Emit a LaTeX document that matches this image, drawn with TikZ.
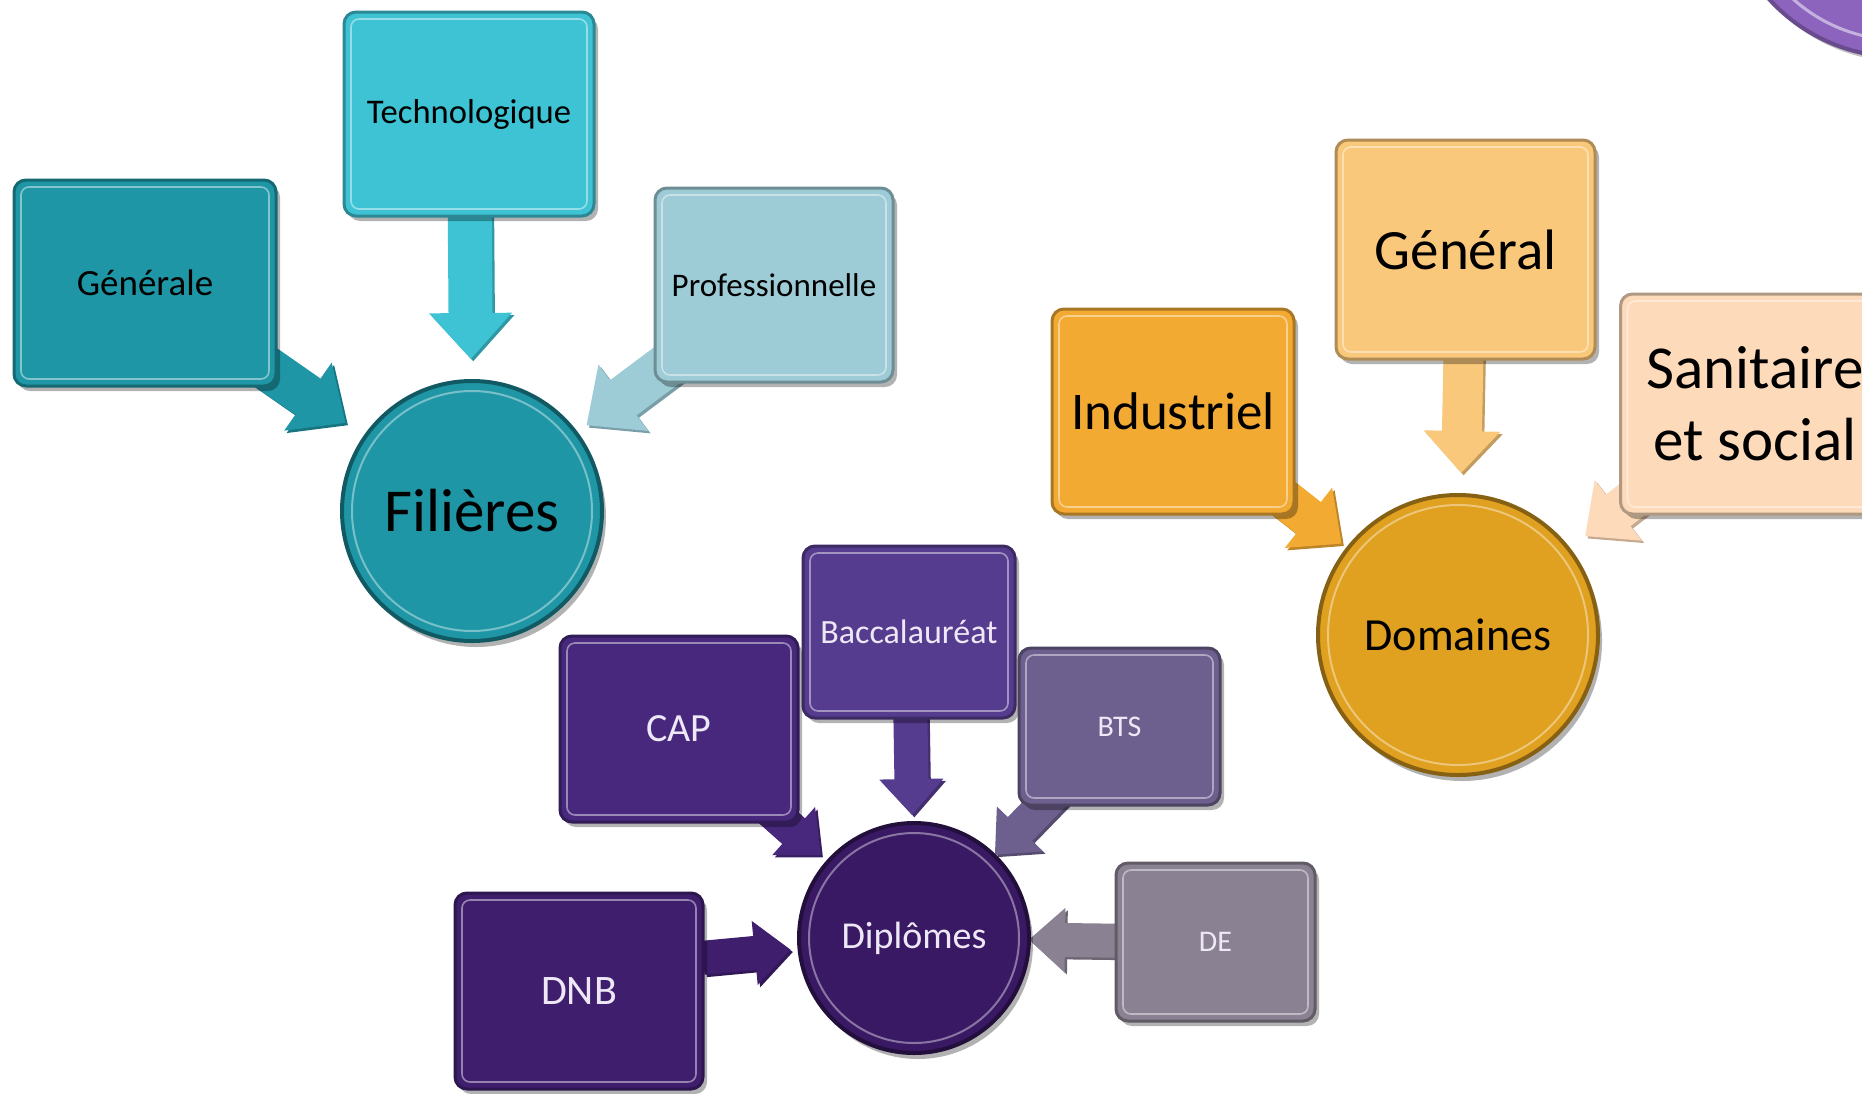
\documentclass[tikz,border=0pt]{standalone}
\usepackage{fontspec}
\setmainfont{Carlito}
\usetikzlibrary{arrows.meta,shadows,calc}
\pgfdeclarelayer{back}
\pgfdeclarelayer{bg}
\pgfsetlayers{back,bg,main}
\definecolor{tealA}{RGB}{30,150,165}
\definecolor{tealB}{RGB}{62,195,212}
\definecolor{tealC}{RGB}{157,203,214}
\definecolor{orA}{RGB}{242,170,50}
\definecolor{orB}{RGB}{250,200,122}
\definecolor{orC}{RGB}{252,218,186}
\definecolor{orD}{RGB}{224,160,32}
\definecolor{puCAP}{RGB}{72,40,125}
\definecolor{puBAC}{RGB}{86,60,142}
\definecolor{puBTS}{RGB}{110,96,142}
\definecolor{puDE}{RGB}{138,130,146}
\definecolor{puDNB}{RGB}{64,30,110}
\definecolor{puDIP}{RGB}{58,25,100}
\definecolor{puTOP}{RGB}{140,100,190}
\definecolor{ltxt}{RGB}{238,232,246}
\tikzset{
  x=0.5pt, y=-0.5pt,
  bevelbox/.style 2 args={rectangle, rounded corners=6pt, fill=#1, draw=#1!70!black,
    line width=1.5pt, inner sep=0pt, outer sep=0pt, align=center, text=#2,
    drop shadow={shadow xshift=2pt, shadow yshift=-2.5pt, opacity=0.3, fill=black},
    path picture={\draw[white, opacity=0.45, line width=0.8pt, rounded corners=4pt]
      ([shift={(3.5pt,-3.5pt)}]path picture bounding box.north west) rectangle
      ([shift={(-3.5pt,3.5pt)}]path picture bounding box.south east);}},
  disc/.style n args={3}{circle, fill=#1, draw=#1!60!black, line width=2pt,
    inner sep=0pt, outer sep=0pt, minimum size=#3, text=#2,
    drop shadow={shadow xshift=2pt, shadow yshift=-3pt, opacity=0.3, fill=black},
    path picture={\draw[white, opacity=0.4, line width=1pt]
      (path picture bounding box.center) circle[radius={#3/2-5pt}];}},
  tarrow/.style={line width=22pt, -{Triangle[length=23pt,width=40pt]}},
  oarrow/.style={line width=20pt, -{Triangle[length=21pt,width=37pt]}},
  parrow/.style={line width=17pt, -{Triangle[length=18pt,width=31pt]}},
}
\newcommand\blockarr[5]{%
  \draw[#1, draw=#5!78!black, shorten >=#4, transform canvas={shift={(1.2pt,-1.2pt)}}] (#2) -- (#3);
  \draw[#1, draw=#5, shorten >=#4] (#2) -- (#3);
}
\begin{document}
\begin{tikzpicture}
\useasboundingbox (0,0) rectangle (1862,1093);
\clip (0,0) rectangle (1862,1093);
\begin{pgfonlayer}{back}
\fill[white] (0,0) rectangle (1862,1093);
\end{pgfonlayer}

% partial circle in the top-right corner
\fill[black, opacity=0.25] (1904,-116) circle[radius=89pt];
\fill[puTOP, draw=puTOP!75!black, line width=2pt] (1900,-120) circle[radius=88.5pt];
\draw[white, opacity=0.5, line width=1.5pt] (1900,-120) circle[radius=80pt];

% Filieres group
\node[bevelbox={tealA}{black}, minimum width=131pt, minimum height=103pt,
  font=\fontsize{18.5}{22}\selectfont] (gen) at (145,283) {Générale};
\node[bevelbox={tealB}{black}, minimum width=125pt, minimum height=102pt,
  font=\fontsize{17.3}{20}\selectfont] (tech) at (469,114) {Technologique};
\node[bevelbox={tealC}{black}, minimum width=119pt, minimum height=97pt,
  font=\fontsize{16.5}{20}\selectfont] (prof) at (774,285) {Professionnelle};
\node[disc={tealA}{black}{130pt}, font=\fontsize{30.5}{36}\selectfont] (fil) at (472,511) {Filières};

% Domaines group
\node[bevelbox={orB}{black}, minimum width=129.5pt, minimum height=109.5pt,
  font=\fontsize{28.5}{34}\selectfont] (gnl) at (1465.5,249.5) {Général};
\node[bevelbox={orA}{black}, minimum width=121pt, minimum height=102.5pt,
  font=\fontsize{26.5}{32}\selectfont] (ind) at (1173,411.5) {Industriel};
\node[bevelbox={orC}{black}, minimum width=134.5pt, minimum height=110pt,
  font=\fontsize{30.5}{36}\selectfont] (san) at (1755,404) {Sanitaire\\et social};
\node[disc={orD}{black}{140pt}, font=\fontsize{23}{28}\selectfont] (dom) at (1458,635) {Domaines};

% Diplomes group
\node[bevelbox={puBAC}{ltxt}, minimum width=106pt, minimum height=86pt,
  font=\fontsize{17}{20}\selectfont] (bac) at (909,632) {Baccalauréat};
\node[bevelbox={puCAP}{ltxt}, minimum width=119pt, minimum height=93pt,
  font=\fontsize{20}{24}\selectfont] (cap) at (679,729) {CAP};
\node[bevelbox={puBTS}{ltxt}, minimum width=100.5pt, minimum height=78.5pt,
  font=\fontsize{15}{18}\selectfont] (bts) at (1119.5,726.5) {BTS};
\node[bevelbox={puDNB}{ltxt}, minimum width=124pt, minimum height=98pt,
  font=\fontsize{21}{25}\selectfont] (dnb) at (579,991) {DNB};
\node[bevelbox={puDE}{ltxt}, minimum width=99.5pt, minimum height=79pt,
  font=\fontsize{15}{18}\selectfont] (de) at (1215.5,942) {DE};
\node[disc={puDIP}{ltxt}{115pt}, font=\fontsize{19}{23}\selectfont] (dip) at (914,938) {Diplômes};

\begin{pgfonlayer}{bg}
\blockarr{tarrow}{gen.center}{fil}{12pt}{tealA}
\blockarr{tarrow}{tech.center}{fil}{11pt}{tealB}
\blockarr{tarrow}{prof.center}{fil}{6.5pt}{tealC}
\blockarr{oarrow}{ind.center}{dom}{4pt}{orA}
\blockarr{oarrow}{gnl.center}{dom}{11pt}{orB}
\blockarr{oarrow}{san.center}{dom}{10.5pt}{orC}
\blockarr{parrow}{cap.center}{dip}{5pt}{puCAP}
\blockarr{parrow}{bac.center}{dip}{4pt}{puBAC}
\blockarr{parrow}{bts.center}{dip}{0.5pt}{puBTS}
\blockarr{parrow}{dnb.15}{dip}{4.5pt}{puDNB}
\blockarr{parrow}{de.center}{dip}{0pt}{puDE}
\end{pgfonlayer}
\end{tikzpicture}
\end{document}
